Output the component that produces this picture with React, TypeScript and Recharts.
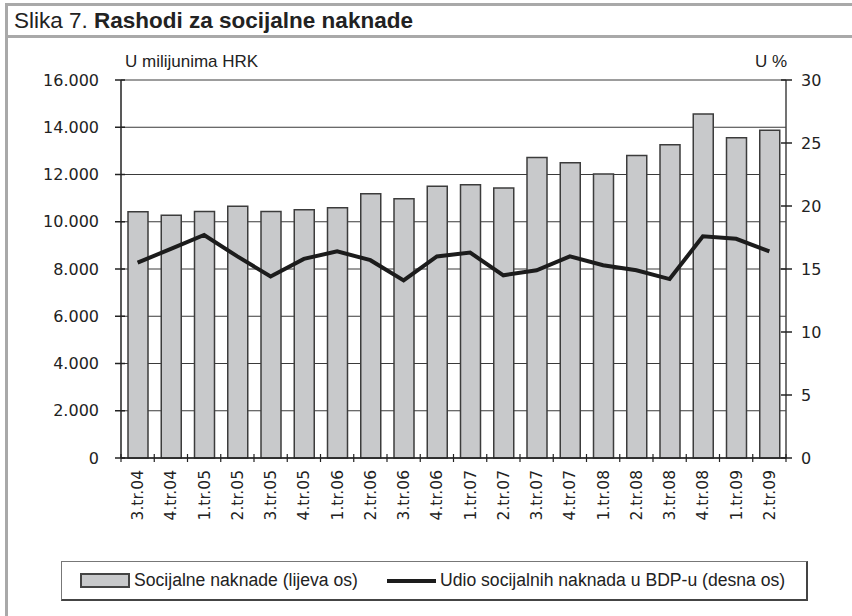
import React from 'react';
import { ComposedChart, Bar, Line, XAxis, YAxis, CartesianGrid } from 'recharts';

const categories = ['3.tr.04', '4.tr.04', '1.tr.05', '2.tr.05', '3.tr.05', '4.tr.05', '1.tr.06', '2.tr.06', '3.tr.06', '4.tr.06', '1.tr.07', '2.tr.07', '3.tr.07', '4.tr.07', '1.tr.08', '2.tr.08', '3.tr.08', '4.tr.08', '1.tr.09', '2.tr.09'];
const naknade = [10420, 10280, 10430, 10660, 10430, 10510, 10590, 11190, 10970, 11500, 11570, 11430, 12720, 12500, 12020, 12800, 13260, 14560, 13560, 13870];
const udio = [15.5, 16.6, 17.7, 16.0, 14.4, 15.8, 16.4, 15.7, 14.1, 16.0, 16.3, 14.5, 14.9, 16.0, 15.3, 14.9, 14.2, 17.6, 17.4, 16.4];
const leftTicks = [0, 2000, 4000, 6000, 8000, 10000, 12000, 14000, 16000];
const rightTicks = [0, 5, 10, 15, 20, 25, 30];

const data = categories.map((c, i) => ({ name: c, naknade: naknade[i], udio: udio[i] }));

const TICK_FONT = '"DejaVu Sans", sans-serif';
const TEXT_FONT = '"Liberation Sans", Arial, sans-serif';
const INK = '#222';

const fmt = (v: number) => (v >= 1000 ? `${Math.floor(v / 1000)}.${String(v % 1000).padStart(3, '0')}` : `${v}`);

const TS = 6;
const L_TM = 16;
const R_TM = 9;
const B_TM = 6;

const LeftTick = (props: any) => {
  const { x, y, payload } = props;
  const ax = x + TS + L_TM;
  return (
    <g>
      <line x1={ax - 6} x2={ax + 4} y1={y} y2={y} stroke={INK} strokeWidth={1.5} />
      <text x={x} y={y} dy="0.355em" textAnchor="end" fontFamily={TICK_FONT} fontSize={16} fill={INK}>
        {fmt(payload.value)}
      </text>
    </g>
  );
};

const RightTick = (props: any) => {
  const { x, y, payload } = props;
  const ax = x - TS - R_TM;
  return (
    <g>
      <line x1={ax - 5} x2={ax + 6} y1={y} y2={y} stroke={INK} strokeWidth={1.5} />
      <text x={x} y={y} dy="0.355em" textAnchor="start" fontFamily={TICK_FONT} fontSize={16} fill={INK}>
        {payload.value}
      </text>
    </g>
  );
};

const BottomTick = (props: any) => {
  const { x, y, payload, index, visibleTicksCount } = props;
  const ay = y - TS - B_TM;
  const half = payload.offset || 0;
  const isLast = index === visibleTicksCount - 1;
  return (
    <g>
      <line x1={x - half} x2={x - half} y1={ay - 4} y2={ay + 4} stroke={INK} strokeWidth={1.2} />
      {isLast && <line x1={x + half} x2={x + half} y1={ay - 4} y2={ay + 4} stroke={INK} strokeWidth={1.2} />}
      <g transform={`translate(${x},${y})`}>
        <text transform="rotate(-90)" x={0} y={0} dy="0.36em" textAnchor="end" fontFamily={TICK_FONT} fontSize={15.5} fill={INK}>
          {payload.value}
        </text>
      </g>
    </g>
  );
};

export default function App() {
  return (
    <div style={{ position: 'absolute', left: 0, top: 0, width: 852, height: 616, background: '#fff', overflow: 'hidden' }}>
      {/* frame */}
      <div style={{ position: 'absolute', left: 5, top: 4, width: 3, height: 612, background: '#a9a9a9' }} />
      <div style={{ position: 'absolute', left: 5, top: 3, width: 847, height: 3, background: '#a9a9a9' }} />
      <div style={{ position: 'absolute', left: 5, top: 35, width: 847, height: 3, background: '#a9a9a9' }} />
      <div style={{ position: 'absolute', left: 14, top: 8, fontFamily: TEXT_FONT, fontSize: 22.5, color: INK, whiteSpace: 'nowrap', lineHeight: '26px' }}>
        Slika 7. <b>Rashodi za socijalne naknade</b>
      </div>
      <div style={{ position: 'absolute', left: 125, top: 52, fontFamily: TEXT_FONT, fontSize: 17, color: INK, whiteSpace: 'nowrap', lineHeight: '20px' }}>
        U milijunima HRK
      </div>
      <div style={{ position: 'absolute', right: 852 - 787, top: 52, fontFamily: TEXT_FONT, fontSize: 17, color: INK, whiteSpace: 'nowrap', lineHeight: '20px' }}>
        U %
      </div>

      <div style={{ position: 'absolute', left: 0, top: 0 }}>
        <ComposedChart width={852} height={616} data={data} margin={{ top: 80, left: 61, right: 16, bottom: 78 }}>
          <CartesianGrid yAxisId="left" vertical={false} stroke="#3a3a3a" strokeWidth={1} />
          <XAxis
            dataKey="name"
            interval={0}
            height={80}
            tickSize={TS}
            tickMargin={B_TM}
            tickLine={false}
            axisLine={{ stroke: INK, strokeWidth: 1.5 }}
            tick={<BottomTick />}
          />
          <YAxis
            yAxisId="left"
            orientation="left"
            width={60}
            domain={[0, 16000]}
            ticks={leftTicks}
            interval={0}
            tickSize={TS}
            tickMargin={L_TM}
            tickLine={false}
            axisLine={{ stroke: INK, strokeWidth: 1.5 }}
            tick={<LeftTick />}
          />
          <YAxis
            yAxisId="right"
            orientation="right"
            width={50}
            domain={[0, 30]}
            ticks={rightTicks}
            interval={0}
            tickSize={TS}
            tickMargin={R_TM}
            tickLine={false}
            axisLine={{ stroke: '#444', strokeWidth: 1.5 }}
            tick={<RightTick />}
          />
          <Bar yAxisId="left" dataKey="naknade" barSize={20} fill="#c8c9cb" stroke="#3c3c3c" strokeWidth={1.5} isAnimationActive={false} />
          <Line yAxisId="right" dataKey="udio" type="linear" stroke="#1c1c1c" strokeWidth={4} dot={false} isAnimationActive={false} />
        </ComposedChart>
      </div>

      {/* legend */}
      <div
        style={{
          position: 'absolute',
          left: 61,
          top: 561,
          width: 744,
          height: 37,
          borderTop: '1px solid #777',
          borderLeft: '1px solid #777',
          borderRight: '2px solid #444',
          borderBottom: '2px solid #444',
          fontFamily: TEXT_FONT,
          fontSize: 17.6,
          color: INK,
        }}
      >
        <div style={{ position: 'absolute', left: 18, top: 11, width: 46, height: 11, background: '#c8c9cb', border: '2px solid #444' }} />
        <div style={{ position: 'absolute', left: 72, top: 8, whiteSpace: 'nowrap', lineHeight: '20px' }}>Socijalne naknade (lijeva os)</div>
        <div style={{ position: 'absolute', left: 325, top: 17, width: 49, height: 4, background: '#1c1c1c' }} />
        <div style={{ position: 'absolute', left: 378, top: 8, whiteSpace: 'nowrap', lineHeight: '20px' }}>Udio socijalnih naknada u BDP-u (desna os)</div>
      </div>
    </div>
  );
}
